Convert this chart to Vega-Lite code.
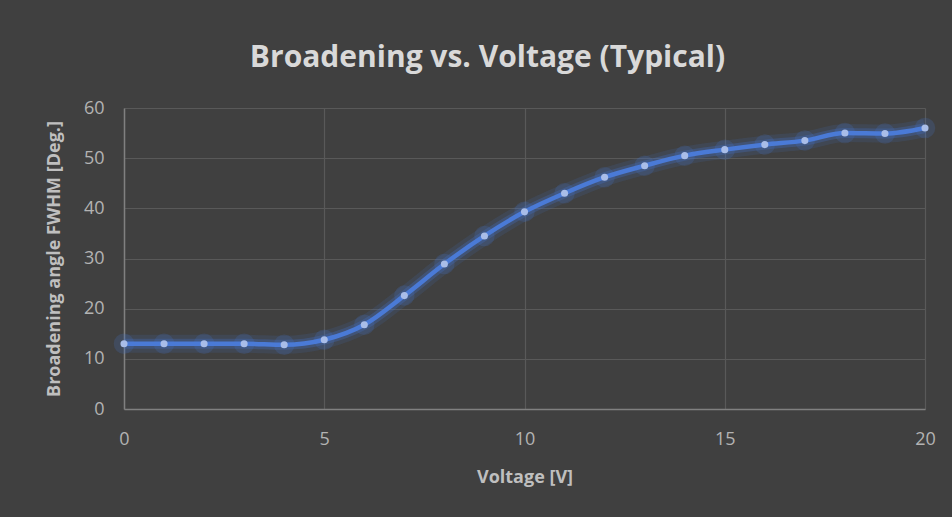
{
  "$schema": "https://vega.github.io/schema/vega-lite/v6.json",
  "autosize": "none",
  "width": 801,
  "height": 301,
  "padding": {"left": 124, "top": 108, "right": 27, "bottom": 108},
  "background": "#404040",
  "title": {
    "text": "Broadening vs. Voltage (Typical)",
    "font": "Open Sans",
    "fontSize": 30,
    "fontWeight": "bold",
    "color": "#d9d9d9",
    "anchor": "middle",
    "dx": -37,
    "offset": 19
  },
  "config": {
    "view": {"stroke": null},
    "axis": {
      "labelFont": "Open Sans",
      "labelFontSize": 18,
      "labelColor": "#b3b3b3",
      "titleFont": "Open Sans",
      "titleFontSize": 18,
      "titleFontWeight": "bold",
      "titleColor": "#bfbfbf",
      "gridColor": "#595959",
      "gridWidth": 1.2,
      "domainColor": "#808080",
      "domainWidth": 1.5,
      "ticks": false
    }
  },
  "data": {
    "values": [
      {"v": 0, "a": 13.0},
      {"v": 1, "a": 13.0},
      {"v": 2, "a": 13.0},
      {"v": 3, "a": 13.0},
      {"v": 4, "a": 12.8},
      {"v": 5, "a": 13.8},
      {"v": 6, "a": 16.8},
      {"v": 7, "a": 22.6},
      {"v": 8, "a": 28.9},
      {"v": 9, "a": 34.5},
      {"v": 10, "a": 39.3},
      {"v": 11, "a": 43.0},
      {"v": 12, "a": 46.2},
      {"v": 13, "a": 48.5},
      {"v": 14, "a": 50.5},
      {"v": 15, "a": 51.7},
      {"v": 16, "a": 52.7},
      {"v": 17, "a": 53.5},
      {"v": 18, "a": 55.0},
      {"v": 19, "a": 54.9},
      {"v": 20, "a": 56.0}
    ]
  },
  "encoding": {
    "x": {
      "field": "v",
      "type": "quantitative",
      "scale": {"domain": [0, 20], "nice": false},
      "axis": {"values": [0, 5, 10, 15, 20], "title": "Voltage [V]", "labelPadding": 21, "titlePadding": 20, "labelFlush": false}
    },
    "y": {
      "field": "a",
      "type": "quantitative",
      "scale": {"domain": [0, 60], "nice": false},
      "axis": {"values": [0, 10, 20, 30, 40, 50, 60], "title": "Broadening angle FWHM [Deg.]", "labelPadding": 20, "titlePadding": 20}
    }
  },
  "layer": [
    {"mark": {"type": "line", "interpolate": "monotone", "color": "#4472c4", "strokeWidth": 18, "opacity": 0.15}},
    {"mark": {"type": "line", "interpolate": "monotone", "color": "#4472c4", "strokeWidth": 10, "opacity": 0.3}},
    {"mark": {"type": "point", "filled": true, "color": "#4472c4", "size": 420, "opacity": 0.22}},
    {"mark": {"type": "line", "interpolate": "monotone", "color": "#4a7ad6", "strokeWidth": 4.5}},
    {"mark": {"type": "point", "filled": true, "color": "#a9bde8", "size": 50, "opacity": 1}}
  ]
}
